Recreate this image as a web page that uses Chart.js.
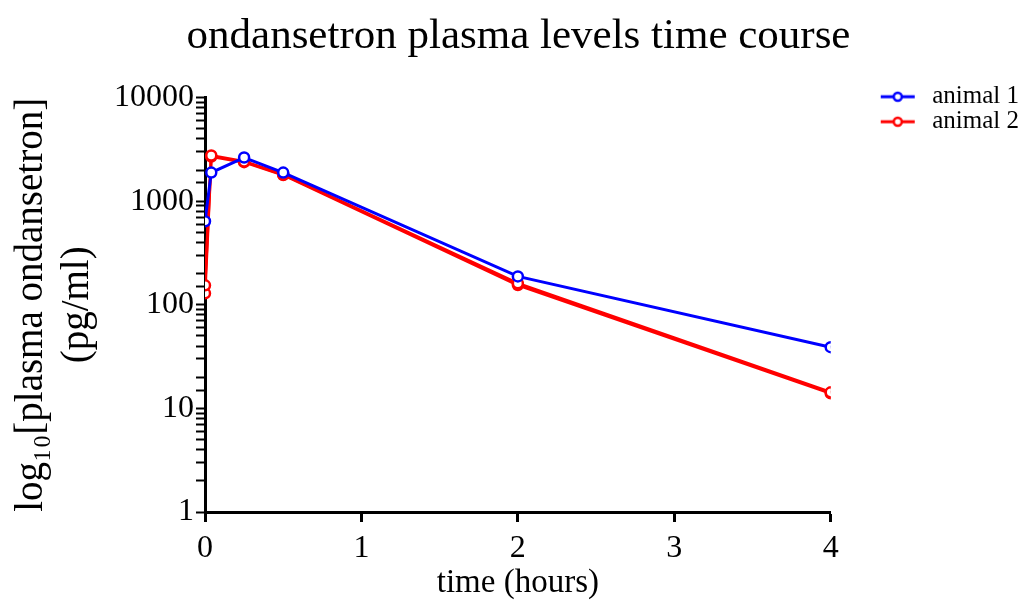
<!DOCTYPE html>
<html>
<head>
<meta charset="utf-8">
<script src="https://cdn.jsdelivr.net/npm/chart.js@4.4.0/dist/chart.umd.min.js"></script>
<style>
  html, body { margin: 0; padding: 0; background: #fff; }
</style>
</head>
<body>
<canvas id="pkChart" width="1024" height="603"></canvas>
<script>
// values (time in hours, concentration in pg/ml)
const timeHours = [0, 0.04, 0.25, 0.5, 2, 4];
const animal1 = [640, 1890, 2640, 1890, 188, 39];
const animal2 = [154, 2760, 2420, 1810, 161, 14.3];
const animal2Rep = [129, 2700, 2380, 1790, 155, 14.0];
const yTickValues = [1, 10, 100, 1000, 10000];
const xTickValues = [0, 1, 2, 3, 4];

const SERIF = '"Liberation Serif", "Times New Roman", serif';

function toPoints(values) {
    return timeHours.map(function(t, i) { return { x: t, y: values[i] }; });
}

// line+circle glyph for the legend; left part is left empty as a gap
function legendGlyph(color) {
    const c = document.createElement('canvas');
    c.width = 89;
    c.height = 14;
    const g = c.getContext('2d');
    g.strokeStyle = color;
    g.lineWidth = 3;
    g.beginPath();
    g.moveTo(50, 7);
    g.lineTo(84, 7);
    g.stroke();
    g.fillStyle = '#fff';
    g.lineWidth = 2.5;
    g.beginPath();
    g.arc(67, 7, 4, 0, Math.PI * 2);
    g.fill();
    g.stroke();
    return c;
}

function seriesStyle(color) {
    return {
        borderColor: color,
        backgroundColor: '#fff',
        borderWidth: 3,
        pointRadius: 5,
        pointBorderWidth: 2.5,
        pointBackgroundColor: '#fff',
        pointBorderColor: color,
        tension: 0,
        fill: false
    };
}

const ctx = document.getElementById('pkChart').getContext('2d');

new Chart(ctx, {
    type: 'line',
    data: {
        datasets: [
            Object.assign({ label: 'animal 1', data: toPoints(animal1) }, seriesStyle('#0000ff')),
            Object.assign({ label: 'animal 2', data: toPoints(animal2) }, seriesStyle('#ff0000')),
            Object.assign({ label: 'animal 2 (rep)', data: toPoints(animal2Rep) }, seriesStyle('#ff0000'))
        ]
    },
    options: {
        responsive: false,
        animation: false,
        layout: {
            padding: { left: 8, right: -5, top: 0, bottom: 0 }
        },
        plugins: {
            title: {
                display: true,
                text: 'ondansetron plasma levels time course',
                color: '#000',
                font: { family: SERIF, size: 43, weight: 'normal' },
                padding: { top: 11, bottom: 35 }
            },
            legend: {
                position: 'right',
                align: 'start',
                title: {
                    display: true,
                    text: ' ',
                    font: { size: 1 },
                    padding: { top: 83, bottom: 0 }
                },
                labels: {
                    color: '#000',
                    font: { family: SERIF, size: 25 },
                    usePointStyle: true,
                    pointStyleWidth: 89,
                    padding: 0,
                    filter: function(item) { return item.datasetIndex < 2; },
                    generateLabels: function(chart) {
                        return chart.data.datasets.map(function(ds, i) {
                            return {
                                text: ds.label,
                                datasetIndex: i,
                                pointStyle: legendGlyph(ds.borderColor),
                                fontColor: '#000',
                                lineWidth: 0,
                                strokeStyle: ds.borderColor,
                                fillStyle: ds.borderColor
                            };
                        });
                    }
                }
            },
            tooltip: { enabled: false }
        },
        scales: {
            x: {
                type: 'linear',
                min: 0,
                max: 4,
                afterBuildTicks: function(scale) {
                    scale.ticks = xTickValues.map(function(v) { return { value: v }; });
                },
                afterFit: function(scale) { scale.height = 91; },
                border: { display: true, color: '#000', width: 3 },
                grid: { drawOnChartArea: false, drawTicks: true, tickLength: 10, tickWidth: 3, tickColor: '#000' },
                ticks: {
                    color: '#000',
                    font: { family: SERIF, size: 32 },
                    padding: 7,
                    maxRotation: 0
                },
                title: {
                    display: true,
                    text: 'time (hours)',
                    color: '#000',
                    font: { family: SERIF, size: 33 },
                    padding: { top: 0, bottom: 0 }
                }
            },
            y: {
                type: 'logarithmic',
                min: 1,
                max: 10000,
                afterFit: function(scale) { scale.width = 197; },
                border: { display: true, color: '#000', width: 3 },
                grid: {
                    drawOnChartArea: false,
                    drawTicks: true,
                    tickLength: 9,
                    tickWidth: 2,
                    tickColor: '#000'
                },
                ticks: {
                    autoSkip: false,
                    color: '#000',
                    font: { family: SERIF, size: 32 },
                    padding: 2,
                    callback: function(value) {
                        return yTickValues.indexOf(value) >= 0 ? String(value) : '';
                    }
                },
                title: {
                    display: true,
                    text: ['log₁₀[plasma ondansetron]', '(pg/ml)'],
                    color: '#000',
                    font: { family: SERIF, size: 39, lineHeight: 1.2 },
                    padding: { top: 0, bottom: 0 }
                }
            }
        }
    }
});
</script>
</body>
</html>
